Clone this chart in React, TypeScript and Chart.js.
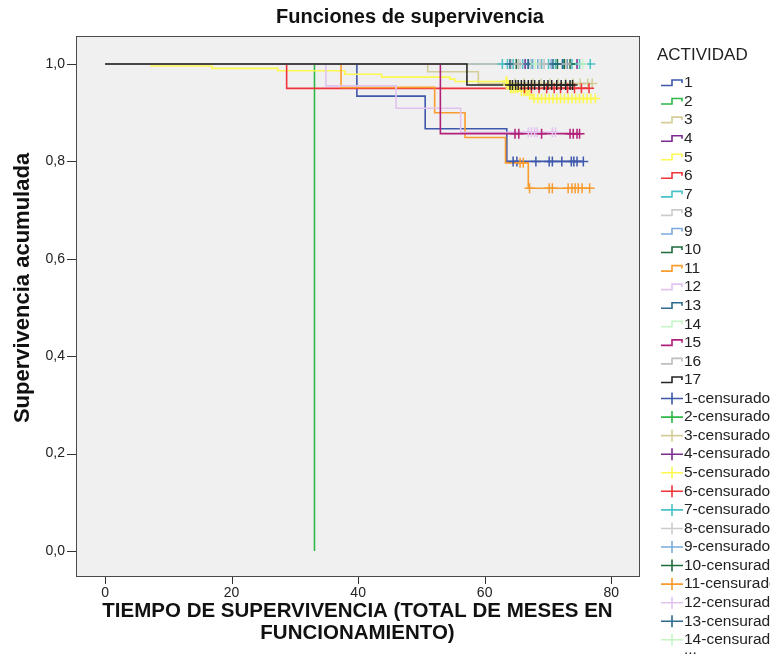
import { useEffect, useRef } from 'react';
import { Chart, registerables } from 'chart.js';

Chart.register(...registerables);

const FONT = '"Liberation Sans", Arial, Helvetica, sans-serif';

// ---------- data ----------
const chartTitle = 'Funciones de supervivencia';
const yAxisTitle = 'Supervivencia acumulada';
const xAxisTitle = ['TIEMPO DE SUPERVIVENCIA (TOTAL DE MESES EN', 'FUNCIONAMIENTO)'];
const legendTitle = 'ACTIVIDAD';
const censSuffix = '-censurado';

const actividades = ['1', '2', '3', '4', '5', '6', '7', '8', '9', '10', '11', '12', '13', '14', '15', '16', '17'];
const colores = [
  '#3E58AC', '#2EB848', '#D3CE97', '#7C2A90', '#FCF851', '#EF3338', '#48C2C5', '#CCCCCC', '#7CAADD',
  '#1E6B3C', '#F99B2E', '#E2C3F0', '#2B6B8C', '#C6F5C6', '#B12079', '#BEBEBE', '#262626',
];

const yTicks = [0, 0.2, 0.4, 0.6, 0.8, 1.0];
const xTicks = [0, 20, 40, 60, 80];

// step points (time, survival) and censored times per activity
const g1Tiempos = [0, 39.8, 50.6, 63.5];
const g1Superv = [1, 0.934, 0.867, 0.8];
const g1Cens = [64.5, 65.1, 68.1, 70.2, 70.7, 72.2, 73.7, 74.1, 74.6, 75.6];

const g2Tiempos = [0, 33.1];
const g2Superv = [1, 0];
const g2Cens: number[] = [];

const g3Tiempos = [0, 51.0, 59.0];
const g3Superv = [1, 0.984, 0.96];
const g3Cens = [64.8, 66.2, 67.6, 68.9, 70.3, 71.6, 72.8, 74.0, 75.1, 76.3, 77.0];

const g4Tiempos = [0];
const g4Superv = [1];
const g4Cens = [66.4, 74.6];

const g5Tiempos = [0, 7.3, 16.9, 27.3, 37.9, 43.7, 54.5, 55.3, 63.6, 64.0, 65.5, 66.8, 67.5];
const g5Superv = [1, 0.996, 0.991, 0.986, 0.979, 0.973, 0.969, 0.964, 0.957, 0.95, 0.944, 0.937, 0.929];
const g5Cens = [
  63.4, 63.5, 63.7, 63.9, 64.1, 64.3, 64.6, 64.9, 65.2, 65.8, 66.2, 66.5, 67.1, 67.8, 68.4,
  69.0, 69.6, 70.2, 70.8, 71.4, 72.0, 72.6, 73.2, 73.8, 74.4, 75.0, 75.6, 76.2, 76.8, 77.5,
];

const g6Tiempos = [0, 28.7];
const g6Superv = [1, 0.95];
const g6Cens = [66.3, 67.4, 68.6, 69.8, 71.0, 72.0, 73.1, 74.2, 75.3, 76.5];

const g7Tiempos = [0];
const g7Superv = [1];
const g7Cens = [62.8, 63.6, 64.5, 66.0, 67.5, 69.0, 70.1, 71.2, 72.5, 73.8, 75.0, 76.7];

const g8Tiempos = [0];
const g8Superv = [1];
const g8Cens = [64.2, 65.6, 67.2, 68.8];

const g9Tiempos = [0];
const g9Superv = [1];
const g9Cens = [66.8, 67.6, 68.4, 70.5];

const g10Tiempos = [0];
const g10Superv = [1];
const g10Cens = [65.0, 71.5, 72.6, 73.5];

const g11Tiempos = [0, 37.3, 52.1, 56.9, 63.3, 66.9];
const g11Superv = [1, 0.952, 0.9, 0.849, 0.797, 0.745];
const g11Cens = [65.6, 66.1, 67.1, 70.2, 70.7, 73.2, 73.8, 74.3, 74.8, 75.4, 76.6];

const g12Tiempos = [0, 34.9, 46.0, 56.2];
const g12Superv = [1, 0.955, 0.909, 0.86];
const g12Cens = [66.9, 67.4, 67.9, 68.3, 70.7, 71.2];

const g13Tiempos = [0];
const g13Superv = [1];
const g13Cens = [64.0, 66.9, 70.8, 72.3, 73.0];

const g14Tiempos = [0];
const g14Superv = [1];
const g14Cens = [68.0, 75.5];

const g15Tiempos = [0, 53.0];
const g15Superv = [1, 0.857];
const g15Cens = [64.8, 65.4, 69.0, 73.5, 74.0, 74.6, 75.0];

const g16Tiempos = [0];
const g16Superv = [1];
const g16Cens = [65.3, 69.4, 72.9];

const g17Tiempos = [0, 57.2];
const g17Superv = [1, 0.957];
const g17Cens = [
  64.0, 64.4, 64.9, 65.3, 65.8, 66.3, 66.9, 67.4, 67.9, 68.6, 69.4, 70.0, 70.6, 71.4, 72.1, 72.8, 73.5, 73.9,
];

const tiempos = [g1Tiempos, g2Tiempos, g3Tiempos, g4Tiempos, g5Tiempos, g6Tiempos, g7Tiempos, g8Tiempos, g9Tiempos,
  g10Tiempos, g11Tiempos, g12Tiempos, g13Tiempos, g14Tiempos, g15Tiempos, g16Tiempos, g17Tiempos];
const supervivencias = [g1Superv, g2Superv, g3Superv, g4Superv, g5Superv, g6Superv, g7Superv, g8Superv, g9Superv,
  g10Superv, g11Superv, g12Superv, g13Superv, g14Superv, g15Superv, g16Superv, g17Superv];
const censuras = [g1Cens, g2Cens, g3Cens, g4Cens, g5Cens, g6Cens, g7Cens, g8Cens, g9Cens,
  g10Cens, g11Cens, g12Cens, g13Cens, g14Cens, g15Cens, g16Cens, g17Cens];

// number of censored entries visible in legend before "..."
const legendCensVisible = 14;

// ---------- helpers ----------
function survAt(times: number[], surv: number[], t: number) {
  let s = surv[0];
  for (let i = 0; i < times.length; i++) if (times[i] <= t) s = surv[i];
  return s;
}

function buildDatasets() {
  const lines: any[] = [];
  const marks: any[] = [];
  actividades.forEach((name, g) => {
    const t = tiempos[g];
    const s = supervivencias[g];
    const c = censuras[g];
    const pts = t.map((x, i) => ({ x, y: s[i] }));
    const lastT = t[t.length - 1];
    const maxC = c.length ? Math.max(...c) : -Infinity;
    if (maxC > lastT) pts.push({ x: maxC, y: s[s.length - 1] });
    lines.push({
      label: name,
      data: pts,
      showLine: true,
      stepped: true,
      borderColor: colores[g],
      backgroundColor: colores[g],
      borderWidth: 1.6,
      pointRadius: 0,
      pointHoverRadius: 0,
      fill: false,
    });
    marks.push({
      label: name + censSuffix,
      data: c.map((x) => ({ x, y: survAt(t, s, x) })),
      showLine: false,
      pointStyle: 'cross',
      pointRadius: 5,
      pointHoverRadius: 5,
      borderColor: colores[g],
      backgroundColor: colores[g],
      pointBorderWidth: 1.5,
      borderWidth: 1.5,
    });
  });
  const all = [...lines, ...marks];
  const n = all.length;
  all.forEach((d, i) => (d.order = n - i));
  return all;
}

const decorPlugin = {
  id: 'decor',
  beforeDraw(chart: any) {
    const { ctx, chartArea: a } = chart;
    ctx.save();
    ctx.fillStyle = '#ffffff';
    ctx.fillRect(0, 0, chart.width, chart.height);
    ctx.fillStyle = '#F0F0F0';
    ctx.fillRect(a.left, a.top, a.right - a.left, a.bottom - a.top);
    ctx.restore();
  },
  afterDraw(chart: any) {
    const { ctx, chartArea: a } = chart;
    ctx.save();
    // frame
    ctx.strokeStyle = '#4a4a4a';
    ctx.lineWidth = 1;
    ctx.strokeRect(a.left + 0.5, a.top + 0.5, a.right - a.left, a.bottom - a.top);

    // tick marks (outside the frame)
    ctx.strokeStyle = '#333';
    ctx.beginPath();
    xTicks.forEach((v) => {
      const px = Math.round(chart.scales.x.getPixelForValue(v)) + 0.5;
      ctx.moveTo(px, a.bottom + 1);
      ctx.lineTo(px, a.bottom + 8);
    });
    yTicks.forEach((v) => {
      const py = Math.round(chart.scales.y.getPixelForValue(v)) + 0.5;
      ctx.moveTo(a.left - 9, py);
      ctx.lineTo(a.left, py);
    });
    ctx.stroke();

    // title
    ctx.fillStyle = '#111';
    ctx.textAlign = 'center';
    ctx.textBaseline = 'middle';
    ctx.font = `bold 20px ${FONT}`;
    ctx.fillText(chartTitle, 410, 17);

    // x title
    const cx = (a.left + a.right) / 2;
    ctx.font = `bold 20.5px ${FONT}`;
    ctx.fillText(xAxisTitle[0], cx, 611);
    ctx.fillText(xAxisTitle[1], cx, 633);

    // y title
    ctx.save();
    ctx.translate(23, 288);
    ctx.rotate(-Math.PI / 2);
    ctx.font = `bold 22px ${FONT}`;
    ctx.fillText(yAxisTitle, 0, 0);
    ctx.restore();

    // legend
    ctx.textAlign = 'left';
    ctx.fillStyle = '#222';
    ctx.font = `17px ${FONT}`;
    ctx.fillText(legendTitle, 657, 55);
    ctx.font = `15.5px ${FONT}`;
    const rowH = 18.56;
    let row = 0;
    const iconL = 661;
    const iconR = 683;
    actividades.forEach((name, g) => {
      const y = 83 + row * rowH;
      ctx.strokeStyle = colores[g];
      ctx.lineWidth = 1.6;
      ctx.beginPath();
      ctx.moveTo(iconL, y + 2.5);
      ctx.lineTo(iconL + 11, y + 2.5);
      ctx.lineTo(iconL + 11, y - 3);
      ctx.lineTo(iconR - 1, y - 3);
      ctx.lineTo(iconR - 1, y);
      ctx.stroke();
      ctx.fillStyle = '#222';
      ctx.fillText(name, iconR + 1, y);
      row++;
    });
    actividades.slice(0, legendCensVisible).forEach((name, g) => {
      const y = 83 + row * rowH;
      ctx.strokeStyle = colores[g];
      ctx.lineWidth = 1.6;
      ctx.beginPath();
      ctx.moveTo(iconL, y);
      ctx.lineTo(iconR, y);
      ctx.moveTo(iconL + 11, y - 6);
      ctx.lineTo(iconL + 11, y + 6);
      ctx.stroke();
      ctx.fillStyle = '#222';
      ctx.fillText(name + censSuffix, iconR + 1, y);
      row++;
    });
    ctx.fillText('...', iconR + 1, 83 + row * rowH - 9);
    ctx.restore();
  },
};

export default function App() {
  const ref = useRef<HTMLCanvasElement>(null);

  useEffect(() => {
    if (!ref.current) return;
    const chart = new Chart(ref.current, {
      type: 'scatter',
      data: { datasets: buildDatasets() },
      options: {
        responsive: false,
        animation: false,
        devicePixelRatio: 1,
        layout: { padding: { top: 36, right: 131, left: 0, bottom: 0 } },
        plugins: {
          legend: { display: false },
          title: { display: false },
          tooltip: { enabled: false },
        },
        scales: {
          x: {
            type: 'linear',
            min: -4.6,
            max: 84.4,
            afterBuildTicks: (s: any) => {
              s.ticks = xTicks.map((v) => ({ value: v }));
            },
            afterFit: (s: any) => {
              s.height = 88;
            },
            grid: { display: false, drawOnChartArea: false, drawTicks: false, tickLength: 8 },
            border: { display: false },
            ticks: {
              color: '#222',
              font: { family: FONT, size: 14 },
              padding: 9,
              maxRotation: 0,
              autoSkip: false,
              callback: (v: any) => String(v),
            },
          },
          y: {
            type: 'linear',
            min: -0.0513,
            max: 1.0575,
            afterBuildTicks: (s: any) => {
              s.ticks = yTicks.map((v) => ({ value: v }));
            },
            afterFit: (s: any) => {
              s.width = 76;
            },
            grid: { display: false, drawOnChartArea: false, drawTicks: false, tickLength: 9 },
            border: { display: false },
            ticks: {
              color: '#222',
              font: { family: FONT, size: 14 },
              padding: 11,
              autoSkip: false,
              callback: (v: any) => Number(v).toFixed(1).replace('.', ','),
            },
          },
        },
      } as any,
      plugins: [decorPlugin],
    });
    return () => chart.destroy();
  }, []);

  return (
    <canvas
      ref={ref}
      width={770}
      height={664}
      style={{ position: 'absolute', left: 0, top: 0, width: 770, height: 664, display: 'block' }}
    />
  );
}
